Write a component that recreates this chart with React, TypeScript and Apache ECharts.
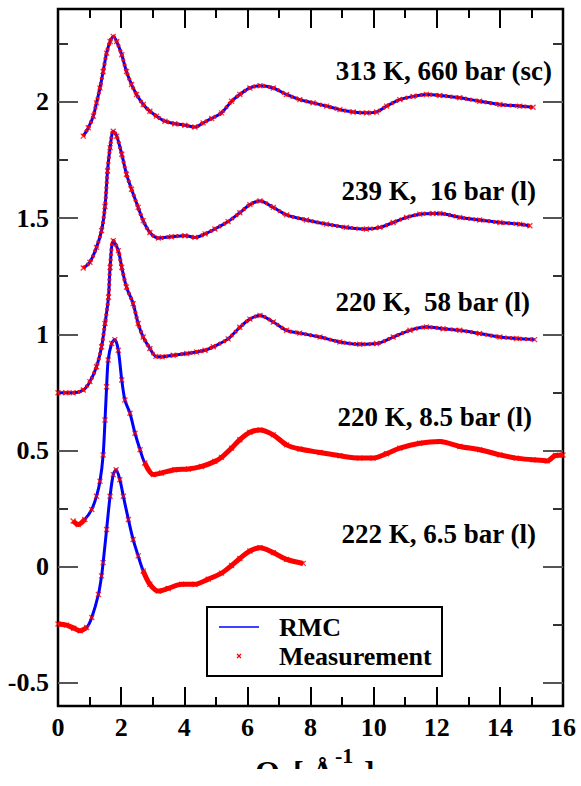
import React, { useEffect, useRef } from "react";
import * as echarts from "echarts";

// ---------- data ----------
const X_TICKS = [0, 2, 4, 6, 8, 10, 12, 14, 16];
const Y_TICKS = [-0.5, 0, 0.5, 1, 1.5, 2];
const Y_MINOR_TICKS = [-0.25, 0.25, 0.75, 1.25, 1.75, 2.25];

const CURVE_LABELS = [
  "313 K, 660 bar (sc)",
  "239 K,  16 bar (l)",
  "220 K,  58 bar (l)",
  "220 K, 8.5 bar (l)",
  "222 K, 6.5 bar (l)",
];

// S(Q) curves (offset as in the figure), [Q, S]
const S_313K_660: number[][] = [
  [0.8, 1.853], [0.96, 1.889], [1.12, 1.939], [1.22, 1.996], [1.33, 2.06], [1.43, 2.131],
  [1.54, 2.21], [1.65, 2.26], [1.75, 2.282], [1.86, 2.26], [2.02, 2.203], [2.17, 2.131],
  [2.33, 2.075], [2.49, 2.032], [2.7, 1.989], [2.91, 1.96], [3.12, 1.939], [3.39, 1.917],
  [3.7, 1.906], [4.02, 1.9], [4.34, 1.892], [4.6, 1.91], [4.87, 1.929], [5.18, 1.953],
  [5.5, 2.003], [5.76, 2.032], [6.08, 2.06], [6.4, 2.07], [6.82, 2.06], [7.24, 2.032],
  [7.66, 2.01], [8.08, 1.996], [8.51, 1.982], [8.93, 1.967], [9.35, 1.957], [9.77, 1.953],
  [10.09, 1.957], [10.41, 1.982], [10.83, 2.01], [11.25, 2.024], [11.67, 2.032], [12.1, 2.028],
  [12.73, 2.018], [13.36, 2.003], [14.0, 1.989], [14.63, 1.982], [15.05, 1.977],
];

const S_239K_16: number[][] = [
  [0.8, 1.285], [1.01, 1.31], [1.22, 1.374], [1.38, 1.446], [1.49, 1.55], [1.57, 1.703],
  [1.65, 1.803], [1.75, 1.874], [1.86, 1.853], [2.02, 1.775], [2.17, 1.689], [2.33, 1.624],
  [2.54, 1.546], [2.7, 1.489], [2.91, 1.438], [3.18, 1.414], [3.6, 1.42], [4.02, 1.424],
  [4.34, 1.417], [4.66, 1.432], [4.97, 1.453], [5.39, 1.485], [5.76, 1.523], [6.08, 1.558],
  [6.4, 1.574], [6.82, 1.546], [7.24, 1.514], [7.87, 1.492], [8.51, 1.474], [9.14, 1.46],
  [9.77, 1.453], [10.2, 1.46], [10.62, 1.481], [11.04, 1.503], [11.46, 1.517], [11.88, 1.52],
  [12.1, 1.52], [12.73, 1.503], [13.36, 1.492], [14.0, 1.481], [14.63, 1.474], [14.95, 1.467],
];

const S_220K_58: number[][] = [
  [0.0, 0.748], [0.24, 0.748], [0.48, 0.748], [0.8, 0.76], [1.01, 0.796], [1.22, 0.86],
  [1.38, 0.946], [1.49, 1.046], [1.6, 1.16], [1.65, 1.288], [1.75, 1.403], [1.91, 1.36],
  [2.02, 1.288], [2.17, 1.203], [2.38, 1.132], [2.54, 1.046], [2.7, 0.988], [2.91, 0.939],
  [3.1, 0.905], [3.3, 0.903], [3.65, 0.91], [4.08, 0.917], [4.39, 0.924], [4.66, 0.931],
  [4.92, 0.946], [5.39, 0.98], [5.76, 1.03], [6.08, 1.065], [6.4, 1.081], [6.82, 1.053],
  [7.24, 1.017], [7.66, 1.005], [8.3, 0.988], [8.93, 0.967], [9.56, 0.957], [10.09, 0.96],
  [10.62, 0.988], [11.15, 1.017], [11.67, 1.031], [12.2, 1.024], [12.73, 1.017], [13.36, 1.003],
  [14.0, 0.988], [14.52, 0.982], [15.1, 0.977],
];

const S_220K_8_5: number[][] = [
  [0.48, 0.196], [0.64, 0.181], [0.85, 0.203], [1.07, 0.246], [1.22, 0.303], [1.33, 0.367],
  [1.43, 0.48], [1.49, 0.631], [1.54, 0.774], [1.59, 0.889], [1.7, 0.96], [1.8, 0.977],
  [1.91, 0.931], [2.02, 0.803], [2.12, 0.717], [2.28, 0.66], [2.44, 0.574], [2.6, 0.503],
  [2.75, 0.446], [3.02, 0.396], [3.28, 0.403], [3.7, 0.417], [4.13, 0.42], [4.55, 0.431],
  [4.97, 0.453], [5.18, 0.47], [5.5, 0.51], [5.76, 0.546], [6.08, 0.578], [6.4, 0.588],
  [6.82, 0.567], [7.24, 0.524], [7.66, 0.506], [8.3, 0.491], [8.93, 0.477], [9.56, 0.467],
  [9.98, 0.467], [10.41, 0.486], [10.83, 0.51], [11.46, 0.531], [12.1, 0.538], [12.73, 0.517],
  [13.36, 0.503], [14.0, 0.481], [14.52, 0.467], [15.05, 0.46], [15.5, 0.455], [15.76, 0.478],
  [16.0, 0.48],
];

const S_222K_6_5: number[][] = [
  [0.0, -0.247], [0.27, -0.252], [0.5, -0.265], [0.7, -0.276], [0.91, -0.262], [1.07, -0.219],
  [1.28, -0.12], [1.38, -0.04], [1.43, 0.017], [1.54, 0.16], [1.65, 0.303], [1.75, 0.396],
  [1.84, 0.417], [1.96, 0.374], [2.07, 0.303], [2.23, 0.203], [2.38, 0.117], [2.54, 0.046],
  [2.7, -0.019], [2.91, -0.076], [3.18, -0.105], [3.49, -0.094], [3.92, -0.076], [4.34, -0.076],
  [4.76, -0.054], [5.18, -0.028], [5.5, 0.005], [5.76, 0.035], [6.08, 0.067], [6.4, 0.081],
  [6.82, 0.06], [7.24, 0.031], [7.77, 0.014],
];

const CURVES = [S_313K_660, S_239K_16, S_220K_58, S_220K_8_5, S_222K_6_5];
// curves whose measurement points are so dense they merge into a band
const DENSE = [false, false, false, true, true];

// ---------- styling ----------
const FONT = "'Liberation Serif', 'Times New Roman', serif";
const BLUE = "#0000ff";
const RED = "#ff0000";
const X_MARK = "path://M0,0L10,10M10,0L0,10";

const LABEL_POS = [
  { x: 552, y: 71 },
  { x: 536, y: 191 },
  { x: 530, y: 302 },
  { x: 532, y: 417 },
  { x: 536, y: 534 },
];

function bandOf(d: number[][], lo: number, hi: number) {
  const out: number[][] = [];
  let gap = false;
  for (const p of d) {
    if (p[0] < lo || p[0] > hi) {
      out.push(p);
      gap = false;
    } else if (!gap) {
      out.push([p[0], NaN]);
      gap = true;
    }
  }
  return out;
}

function txt(text: string, x: number, y: number, size: number, align = "left", extra: any = {}) {
  return {
    type: "text",
    x,
    y,
    z: 50,
    style: {
      text,
      fill: "#000",
      fontSize: size,
      fontFamily: FONT,
      fontWeight: "bold",
      align,
      textAlign: align,
      verticalAlign: "middle",
      textVerticalAlign: "middle",
      ...extra,
    },
  };
}

export default function App() {
  const ref = useRef<HTMLDivElement>(null);
  useEffect(() => {
    if (!ref.current) return;
    const chart = echarts.init(ref.current, undefined, { renderer: "svg" });

    const series: any[] = [];
    CURVES.forEach((d, i) => {
      series.push({
        type: "line",
        name: "RMC",
        data: d,
        showSymbol: false,
        smooth: 0.3,
        lineStyle: { color: BLUE, width: 3 },
        z: 2,
        silent: true,
      });
      if (DENSE[i]) {
        series.push({
          type: "line",
          name: "Measurement band",
          data: bandOf(d, 1.0, 2.6),
          showSymbol: false,
          smooth: 0.3,
          connectNulls: false,
          lineStyle: { color: RED, width: 5 },
          z: 3,
          silent: true,
        });
      } else {
        series.push({
          type: "line",
          name: "Measurement trace",
          data: d,
          showSymbol: false,
          smooth: 0.3,
          lineStyle: { color: RED, width: 4, type: [2, 3] },
          z: 3,
          silent: true,
        });
      }
      series.push({
        type: "scatter",
        name: "Measurement",
        data: d,
        symbol: X_MARK,
        symbolSize: 5,
        itemStyle: { color: RED, borderColor: RED, borderWidth: 1.3 },
        z: 4,
        silent: true,
      });
    });

    const xBase = {
      type: "value",
      min: X_TICKS[0],
      max: X_TICKS[X_TICKS.length - 1],
      interval: 2,
      axisLine: { show: false, onZero: false },
      splitLine: { show: false },
      axisTick: { inside: true, length: 19, lineStyle: { color: "#000", width: 2 } },
      minorTick: { show: true, splitNumber: 2, length: 9, lineStyle: { color: "#000", width: 2 } },
      minorSplitLine: { show: false },
    };
    const yBase = {
      type: "value",
      min: -0.6,
      max: 2.4,
      axisLine: { show: false, onZero: false },
      splitLine: { show: false },
    };

    chart.setOption({
      animation: false,
      backgroundColor: "#fff",
      grid: {
        left: 58,
        right: 18,
        top: 9,
        bottom: 80,
        show: true,
        borderColor: "#000",
        borderWidth: 2.5,
        backgroundColor: "transparent",
      },
      xAxis: [
        {
          ...xBase,
          position: "bottom",
          axisLabel: {
            margin: 8,
            fontSize: 26,
            fontWeight: "bold",
            fontFamily: FONT,
            color: "#000",
          },
        },
        { ...xBase, position: "top", axisLabel: { show: false } },
      ],
      yAxis: [
        {
          ...yBase,
          position: "left",
          axisTick: { inside: true, length: 20, customValues: Y_TICKS, lineStyle: { color: "#555", width: 2 } },
          axisLabel: {
            customValues: Y_TICKS,
            margin: 9,
            fontSize: 26,
            fontWeight: "bold",
            fontFamily: FONT,
            color: "#000",
          },
        },
        {
          ...yBase,
          position: "right",
          axisTick: { inside: true, length: 20, customValues: Y_TICKS, lineStyle: { color: "#555", width: 2 } },
          axisLabel: { show: false },
        },
        {
          ...yBase,
          position: "left",
          axisTick: { inside: true, length: 10, customValues: Y_MINOR_TICKS, lineStyle: { color: "#333", width: 2 } },
          axisLabel: { show: false },
        },
        {
          ...yBase,
          position: "right",
          axisTick: { inside: true, length: 10, customValues: Y_MINOR_TICKS, lineStyle: { color: "#333", width: 2 } },
          axisLabel: { show: false },
        },
      ],
      series,
      graphic: [
        ...CURVE_LABELS.map((t, i) => txt(t, LABEL_POS[i].x, LABEL_POS[i].y, 27, "right", { whiteSpace: "pre" })),
        // legend
        {
          type: "rect",
          z: 40,
          shape: { x: 207, y: 607, width: 235, height: 69 },
          style: { fill: "#fff", stroke: "#000", lineWidth: 2 },
        },
        {
          type: "line",
          z: 41,
          shape: { x1: 219, y1: 627, x2: 259, y2: 627 },
          style: { stroke: BLUE, lineWidth: 1.5 },
        },
        {
          type: "line",
          z: 41,
          shape: { x1: 237, y1: 654, x2: 241, y2: 658 },
          style: { stroke: RED, lineWidth: 1.2 },
        },
        {
          type: "line",
          z: 41,
          shape: { x1: 241, y1: 654, x2: 237, y2: 658 },
          style: { stroke: RED, lineWidth: 1.2 },
        },
        txt("RMC", 279, 627, 26),
        txt("Measurement", 279, 656, 26),
        // axis title (cut off at bottom as in the original)
        txt("Q", 255, 772, 32),
        txt("[", 293, 772, 32),
        txt("Å", 311, 772, 32),
        txt("-1", 335, 755, 22),
        txt("]", 364, 772, 32),
        {
          type: "rect",
          z: 100,
          shape: { x: 0, y: 769, width: 581, height: 17 },
          style: { fill: "#fff" },
        },
      ],
    });
    return () => chart.dispose();
  }, []);
  return (
    <div
      ref={ref}
      style={{ position: "fixed", left: 0, top: 0, width: 581, height: 786, background: "#fff" }}
    />
  );
}
